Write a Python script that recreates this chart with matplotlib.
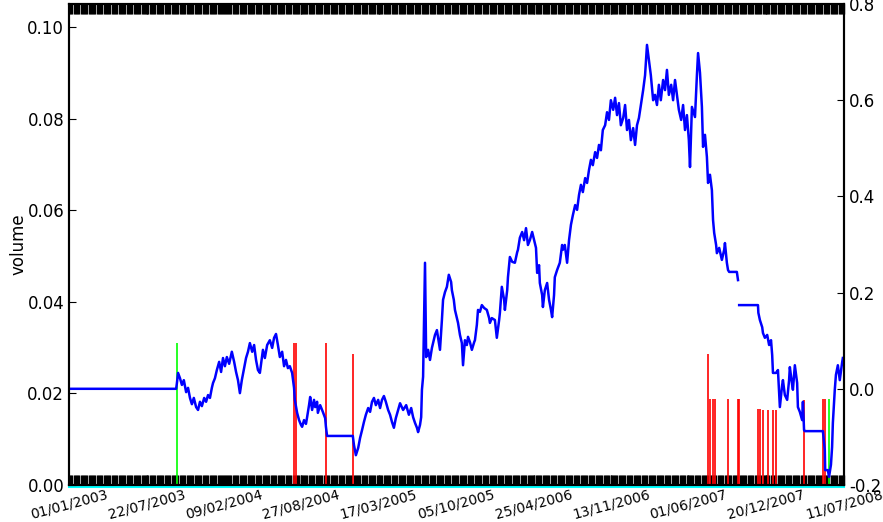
import numpy as np
import matplotlib
matplotlib.use("Agg")
import matplotlib.pyplot as plt
from matplotlib.transforms import offset_copy

#### data

start = np.datetime64('2003-01-01')

# blue series (right axis): days after 01/01/2003 and value, nan = break in the line
line_days = [0, 279, 281, 284, 289, 294, 299, 305, 310, 315, 320, 325, 331, 336, 341, 346,
             352, 357, 362, 367, 372, 375, 380, 385, 391, 396, 401, 406, 411, 417, 424, 430,
             435, 440, 445, 450, 456, 461, 466, 471, 477, 482, 487, 492, 497, 503, 505, 510,
             516, 523, 529, 534, 539, 544, 549, 555, 560, 565, 570, 575, 581, 586, 588, 594,
             599, 604, 607, 612, 617, 620, 625, 628, 633, 638, 641, 646, 648, 654, 659, 661,
             667, 669, 672, 739,
             742, 747, 753, 758, 763, 768, 773, 779, 784, 789, 794, 799, 805, 810, 815, 820,
             825, 831, 836, 841, 846, 851, 857, 862, 870, 878, 885, 891, 896, 901, 906, 909,
             914, 917, 919, 922, 924, 927, 930, 935, 940, 945, 948, 953, 958, 963, 966, 971,
             974, 979, 984, 989, 995, 997, 1002, 1005, 1010, 1013, 1018, 1023, 1026, 1031, 1036, 1039,
             1044, 1049, 1055, 1057, 1062, 1065, 1070, 1075, 1081, 1088, 1094, 1096, 1101, 1109, 1114, 1120,
             1122, 1127, 1133, 1135, 1141, 1143, 1148, 1154, 1161, 1167, 1169, 1174, 1180, 1185, 1190, 1195,
             1200, 1206, 1211, 1216, 1219, 1224, 1226, 1232, 1234, 1239, 1245, 1250, 1255, 1258, 1263, 1265,
             1271, 1278, 1284, 1286, 1291, 1297, 1302, 1307, 1312, 1318, 1323, 1328, 1333, 1338, 1344, 1349,
             1354, 1359, 1364, 1370, 1375, 1380, 1385, 1390, 1396, 1401, 1406, 1411, 1417, 1422, 1427, 1432,
             1437, 1443, 1448, 1453, 1458, 1463, 1469, 1474, 1479, 1484, 1489, 1495, 1500, 1505, 1510, 1515,
             1521, 1526, 1531, 1536, 1541, 1547, 1552, 1557, 1562, 1568, 1573, 1578, 1583, 1588, 1594, 1599,
             1604, 1609, 1614, 1617, 1622, 1630, 1635, 1638, 1643, 1648, 1651, 1656, 1661, 1664, 1669, 1674,
             1677, 1680, 1685, 1687, 1693, 1700, 1706, 1708, 1713, 1716, 1719, 1739, 1742, 1743,
             1745, 1794, 1795, 1799, 1805, 1807, 1812, 1818, 1823, 1828, 1831, 1833, 1841, 1846, 1851, 1857,
             1859, 1864, 1870, 1875, 1877, 1883, 1885, 1890, 1896, 1898, 1903, 1909, 1911, 1914, 1916, 1963,
             1968, 1969, 1976, 1979, 1984, 1987, 1989, 1994, 1997, 2002, 2007, 2013, 2015]
line_vals = [0.0, 0.0, 0.012, 0.033, 0.022, 0.008, 0.018, -0.007, 0.002, -0.019, -0.032, -0.019, -0.038, -0.044, -0.027, -0.036,
             -0.019, -0.027, -0.013, -0.019, 0.002, 0.012, 0.022, 0.039, 0.056, 0.035, 0.064, 0.047, 0.066, 0.052, 0.077, 0.056,
             0.035, 0.018, -0.009, 0.018, 0.043, 0.064, 0.077, 0.095, 0.077, 0.091, 0.060, 0.039, 0.033, 0.070, 0.081, 0.064,
             0.091, 0.101, 0.085, 0.106, 0.114, 0.091, 0.066, 0.077, 0.047, 0.060, 0.043, 0.047, 0.033, 0.002, -0.023, -0.050,
             -0.065, -0.075, -0.079, -0.065, -0.073, -0.059, -0.034, -0.017, -0.044, -0.023, -0.038, -0.027, -0.050, -0.034, -0.044, -0.048,
             -0.061, -0.079, -0.098, -0.098,
             -0.117, -0.138, -0.123, -0.102, -0.086, -0.069, -0.054, -0.040, -0.048, -0.027, -0.019, -0.034, -0.023, -0.040, -0.023, -0.015,
             -0.027, -0.044, -0.054, -0.069, -0.081, -0.061, -0.044, -0.030, -0.044, -0.034, -0.054, -0.040, -0.059, -0.071, -0.081, -0.090,
             -0.075, -0.059, -0.002, 0.025, 0.122, 0.262, 0.066, 0.081, 0.060, 0.085, 0.095, 0.112, 0.122, 0.097, 0.081, 0.143,
             0.185, 0.201, 0.212, 0.237, 0.222, 0.205, 0.185, 0.164, 0.147, 0.137, 0.112, 0.095, 0.049, 0.101, 0.091, 0.108,
             0.097, 0.081, 0.097, 0.101, 0.133, 0.164, 0.160, 0.174, 0.168, 0.164, 0.147, 0.137, 0.147, 0.143, 0.106, 0.143,
             0.158, 0.212, 0.185, 0.164, 0.205, 0.232, 0.274, 0.264, 0.262, 0.284, 0.289, 0.314, 0.326, 0.309, 0.334, 0.299,
             0.309, 0.326, 0.309, 0.293, 0.241, 0.257, 0.220, 0.195, 0.170, 0.205, 0.220, 0.185, 0.164, 0.149, 0.195, 0.232,
             0.247, 0.262, 0.299, 0.289, 0.299, 0.262, 0.309, 0.341, 0.361, 0.382, 0.372, 0.403, 0.424, 0.409, 0.438, 0.428,
             0.455, 0.476, 0.465, 0.492, 0.480, 0.507, 0.496, 0.538, 0.548, 0.575, 0.559, 0.600, 0.580, 0.605, 0.569, 0.594,
             0.548, 0.563, 0.590, 0.538, 0.559, 0.517, 0.542, 0.507, 0.548, 0.563, 0.590, 0.621, 0.652, 0.715, 0.684, 0.652,
             0.600, 0.611, 0.590, 0.632, 0.600, 0.642, 0.621, 0.663, 0.611, 0.632, 0.600, 0.642, 0.611, 0.580, 0.559, 0.590,
             0.538, 0.569, 0.517, 0.461, 0.586, 0.565, 0.652, 0.698, 0.657, 0.586, 0.503, 0.528, 0.482, 0.428, 0.445, 0.413,
             0.351, 0.324, 0.299, 0.282, 0.293, 0.268, 0.289, 0.303, 0.262, 0.247, 0.243, 0.243, 0.226, np.nan,
             0.174, 0.174, 0.158, 0.143, 0.128, 0.116, 0.106, 0.112, 0.091, 0.101, 0.070, 0.033, 0.033, 0.039, -0.038, 0.008,
             0.018, -0.013, -0.023, 0.018, 0.045, 0.008, -0.002, 0.049, 0.012, -0.038, -0.048, -0.065, -0.027, -0.086, -0.088, -0.088,
             -0.127, -0.169, -0.169, -0.183, -0.158, -0.121, -0.071, -0.002, 0.029, 0.049, 0.018, 0.054, 0.064]

# red and green volume bars (left axis)
red_days = [587, 591, 670, 739, 1665, 1669, 1678, 1681, 1717, 1741, 1745,
            1793, 1798, 1807, 1820, 1833, 1842, 1913, 1964, 1968]
red_vols = [0.0311, 0.0311, 0.0311, 0.0286, 0.0286, 0.0187, 0.0187, 0.0187, 0.0187, 0.0187, 0.0187,
            0.0166, 0.0166, 0.0164, 0.0163, 0.0163, 0.0163, 0.0185, 0.0187, 0.0187]
green_days = [280, 1979]
green_vols = [0.0311, 0.0187]

tick_labels = ['01/01/2003', '22/07/2003', '09/02/2004', '27/08/2004', '17/03/2005', '05/10/2005',
               '25/04/2006', '13/11/2006', '01/06/2007', '20/12/2007', '11/07/2008']


def to_dates(days):
    return start + np.array(days).astype('timedelta64[D]')


tick_dates = np.array([np.datetime64(s[6:] + '-' + s[3:5] + '-' + s[:2]) for s in tick_labels])

#### plot

fig = plt.figure(figsize=(8.83, 5.22), dpi=100)
ax = fig.add_axes([69 / 883, 1 - 485 / 522, 775 / 883, 481 / 522])

ax.vlines(to_dates(red_days), 0, red_vols, color='#ff0000', lw=1.2)
ax.vlines(to_dates(green_days), 0, green_vols, color='#00ff00', lw=1.2)
# cyan baseline just under the bottom spine
under = offset_copy(ax.transData, fig=fig, x=0, y=-1.6, units='points')
ax.plot([tick_dates[0], tick_dates[-1]], [0, 0], color='#00ffff', lw=1.5,
        transform=under, clip_on=False, zorder=1)

ax.set_xlim(tick_dates[0], tick_dates[-1])
ax.set_ylim(0, 0.105)
ax.set_yticks(np.arange(0, 0.101, 0.02))
ax.set_yticklabels(['%.2f' % v for v in np.arange(0, 0.101, 0.02)], fontsize=12)
ax.set_ylabel('volume', fontsize=12, labelpad=0)

ax.set_xticks(tick_dates)
ax.set_xticklabels(tick_labels, rotation=15, fontsize=10, ha='center')
# very dense ticks along top and bottom (almost a solid band)
ax.set_xticks(np.arange(tick_dates[0], tick_dates[-1], np.timedelta64(3, 'D')), minor=True)
ax.tick_params(axis='x', which='both', direction='in', top=True, bottom=True, length=7, width=1)
ax.tick_params(axis='x', which='major', pad=1.5)
ax.tick_params(axis='y', direction='in', length=5, right=False)

ax2 = ax.twinx()
ax2.plot(to_dates(line_days), line_vals, color='#0000ff', lw=1.8)
ax2.set_ylim(-0.2, 0.8)
ax2.set_yticks([-0.2, 0.0, 0.2, 0.4, 0.6, 0.8])
ax2.set_yticklabels(['-0.2', '0.0', '0.2', '0.4', '0.6', '0.8'], fontsize=12)
ax2.tick_params(axis='y', direction='in', length=5)
ax2.set_xlim(tick_dates[0], tick_dates[-1])

for a in (ax, ax2):
    for s in a.spines.values():
        s.set_linewidth(1.5)

fig.savefig('out.png', dpi=100)
